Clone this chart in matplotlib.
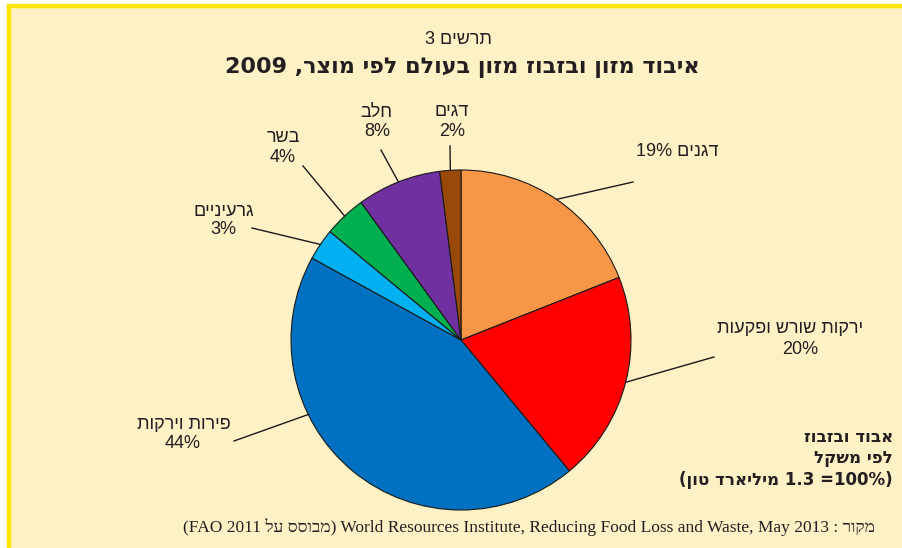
import matplotlib
matplotlib.use('Agg')
import matplotlib.pyplot as plt
from matplotlib.patches import Rectangle
import numpy as np

# ---------------- data (logical order) ----------------
categories = ['דגנים', 'ירקות שורש ופקעות', 'פירות וירקות', 'גרעיניים', 'בשר', 'חלב', 'דגים']
values = [19, 20, 44, 3, 4, 8, 2]
colors = ['#F79646', '#FF0000', '#0070C0', '#00B0F0', '#00B050', '#7030A0', '#984807']

chart_no = 'תרשים'
title_txt = 'איבוד מזון ובזבוז מזון בעולם לפי מוצר'
title_year = '2009'
note_lines = ['אבוד ובזבוז', 'לפי משקל']
note_total = '1.3'
note_unit = 'מיליארד טון'
source_he = 'מקור'
source_based = 'מבוסס על'
source_en = 'World Resources Institute, Reducing Food Loss and Waste, May 2013'
source_fao = 'FAO 2011'


def heb(s):
    """Hebrew text to visual (left-to-right) order."""
    return s[::-1]

W, H = 903, 548
HEB = ['Liberation Sans', 'DejaVu Sans']
HEBB = ['DejaVu Sans']
fig = plt.figure(figsize=(W / 100, H / 100), dpi=100)
fig.patch.set_facecolor('white')
ax = fig.add_axes([0, 0, 1, 1])

def Y(y):
    return H - y

cx, cy, R = 461, Y(340), 170
wedges, _ = ax.pie(values, colors=colors, startangle=90, counterclock=False,
                   center=(cx, cy), radius=R, frame=False,
                   wedgeprops=dict(edgecolor='#1a1a1a', linewidth=0.8))
for w in wedges:
    w.set_zorder(3)

ax.set_xlim(0, W)
ax.set_ylim(0, H)
ax.set_aspect('auto')
ax.axis('off')

# background frame
ax.add_patch(Rectangle((9.2, -10), W + 20, H - 6 + 10, facecolor='#FFF1C6',
                       edgecolor='#FFE600', linewidth=3.2, zorder=0))

# label layout: (name_xy, pct_xy or None, line_start, angle override)
layout = [
    ((677, 151), None, (633, 182), None),
    ((790, 328), (800, 349), (714, 357), None),
    ((184, 425), (183, 444), (234, 441), 206),
    ((224, 211), (223, 230), (252, 228), None),
    ((283, 137), (283, 157), (303, 166), None),
    ((376, 112), (377, 131), (381, 150), None),
    ((452, 112), (452, 131), (450, 146), None),
]

fs = 13
for w, name, val, (nxy, pxy, ls, ang) in zip(wedges, categories, values, layout):
    a = ang if ang is not None else (w.theta1 + w.theta2) / 2
    ex = cx + R * np.cos(np.radians(a))
    ey = cy + R * np.sin(np.radians(a))
    ax.plot([ls[0], ex], [Y(ls[1]), ey], color='#1a1a1a', lw=1.0, zorder=4)
    if pxy is None:
        ax.text(nxy[0], Y(nxy[1]), f'{val}% ' + heb(name), ha='center', va='center',
                fontsize=fs, family=HEB, color='#231f20')
    else:
        ax.text(nxy[0], Y(nxy[1]), heb(name), ha='center', va='center',
                fontsize=fs, family=HEB, color='#231f20')
        ax.text(pxy[0], Y(pxy[1]), f'{val}%', ha='center', va='center',
                fontsize=fs, family=HEB, color='#231f20')

# titles
ax.text(458, Y(40), '3 ' + heb(chart_no), ha='center', va='center', fontsize=13,
        family=HEB, color='#231f20')
ax.text(462, Y(67), title_year + ' ,' + heb(title_txt), ha='center', va='center',
        fontsize=16, fontweight='bold', family=HEBB, color='#231f20')

# note (bottom right)
for i, ln in enumerate(note_lines):
    ax.text(893, Y(437 + 21 * i), heb(ln), ha='right', va='center', fontsize=12,
            fontweight='bold', family=HEBB, color='#231f20')
ax.text(893, Y(480), '(' + heb(note_unit) + ' ' + note_total + ' =100%)', ha='right',
        va='center', fontsize=12, fontweight='bold', family=HEBB, color='#231f20')

# source
ax.text(875, Y(527), '(' + source_fao + ' ' + heb(source_based) + ') ' + source_en + ' : ' + heb(source_he),
        ha='right', va='center', fontsize=12.5, family=['Liberation Serif', 'DejaVu Sans'],
        color='#231f20')

fig.savefig('out.png', dpi=100, facecolor='white')
